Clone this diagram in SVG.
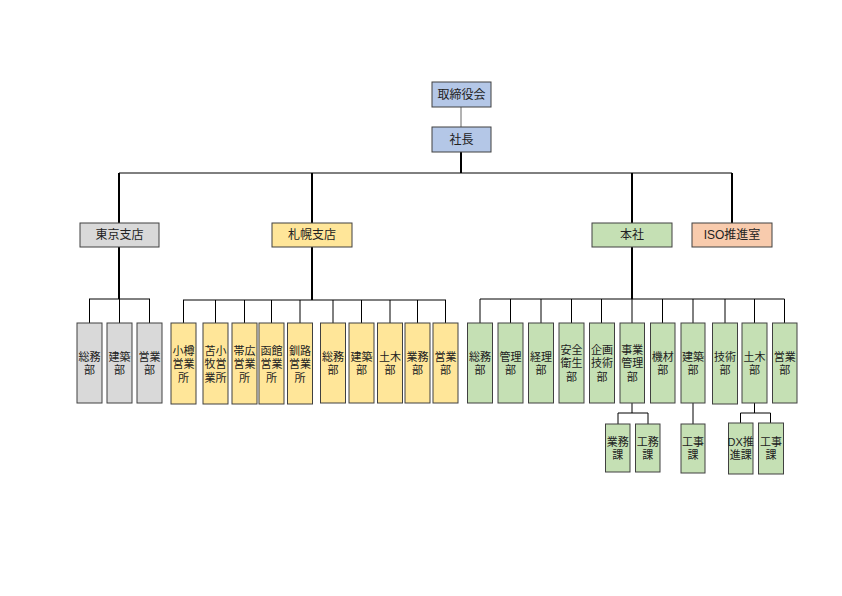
<svg xmlns="http://www.w3.org/2000/svg" width="842" height="596" viewBox="0 0 842 596">
<style>
.b{stroke:#404040;stroke-width:1}
.g{fill:#d9d9d9}.y{fill:#ffe699}.n{fill:#c5e0b4}.u{fill:#b4c7e7}.o{fill:#f8cbad}
text{font-family:"Liberation Sans","Noto Sans CJK JP",sans-serif;font-size:12px;fill:#222;text-anchor:middle;dominant-baseline:central}
text.v{font-size:11px}
.c line{stroke:#000;stroke-width:1}
.c .t{stroke-width:2}
.c .s{stroke:#666}
</style>
<rect width="842" height="596" fill="#fff"/>
<g class="c" id="connectors">
<line class="s" x1="461" y1="107" x2="461" y2="127"/>
<line class="t" x1="461" y1="152" x2="461" y2="173"/>
<line x1="119" y1="173" x2="732" y2="173"/>
<line class="t" x1="119" y1="173" x2="119" y2="223"/>
<line class="t" x1="312" y1="173" x2="312" y2="223"/>
<line class="t" x1="632" y1="173" x2="632" y2="223"/>
<line class="t" x1="732" y1="173" x2="732" y2="223"/>
<line class="t" x1="119" y1="247" x2="119" y2="299"/>
<line x1="89" y1="299" x2="150" y2="299"/>
<line x1="89.5" y1="299" x2="89.5" y2="323"/>
<line x1="119.5" y1="299" x2="119.5" y2="323"/>
<line x1="149.5" y1="299" x2="149.5" y2="323"/>
<line class="t" x1="312" y1="247" x2="312" y2="300"/>
<line x1="183" y1="300" x2="446" y2="300"/>
<line x1="183.5" y1="300" x2="183.5" y2="323"/>
<line x1="215.5" y1="300" x2="215.5" y2="323"/>
<line x1="244.5" y1="300" x2="244.5" y2="323"/>
<line x1="271.5" y1="300" x2="271.5" y2="323"/>
<line x1="300" y1="300" x2="300" y2="323"/>
<line x1="333" y1="300" x2="333" y2="323"/>
<line x1="361.5" y1="300" x2="361.5" y2="323"/>
<line x1="390" y1="300" x2="390" y2="323"/>
<line x1="417.5" y1="300" x2="417.5" y2="323"/>
<line x1="445.5" y1="300" x2="445.5" y2="323"/>
<line class="t" x1="632" y1="247" x2="632" y2="299"/>
<line x1="480" y1="299" x2="784.5" y2="299"/>
<line x1="480" y1="299" x2="480" y2="323"/>
<line x1="510.5" y1="299" x2="510.5" y2="323"/>
<line x1="541" y1="299" x2="541" y2="323"/>
<line x1="571.5" y1="299" x2="571.5" y2="323"/>
<line x1="601.5" y1="299" x2="601.5" y2="323"/>
<line x1="632" y1="299" x2="632" y2="323"/>
<line x1="662.5" y1="299" x2="662.5" y2="323"/>
<line x1="693" y1="299" x2="693" y2="323"/>
<line x1="725" y1="299" x2="725" y2="323"/>
<line x1="754.5" y1="299" x2="754.5" y2="323"/>
<line x1="784.5" y1="299" x2="784.5" y2="323"/>
<line x1="632" y1="403" x2="632" y2="413"/>
<line x1="618" y1="413" x2="648" y2="413"/>
<line x1="618" y1="413" x2="618" y2="424"/>
<line x1="648" y1="413" x2="648" y2="424"/>
<line x1="693" y1="403" x2="693" y2="424"/>
<line x1="754.5" y1="403" x2="754.5" y2="413"/>
<line x1="740.5" y1="413" x2="770.5" y2="413"/>
<line x1="740.5" y1="413" x2="740.5" y2="423"/>
<line x1="770.5" y1="413" x2="770.5" y2="423"/>
</g>
<g id="torishimariyakukai"><rect class="b u" x="432" y="82" width="59" height="25"/><text x="461.5" y="94.5">取締役会</text></g>
<g id="shacho"><rect class="b u" x="432" y="127" width="59" height="25"/><text x="461.5" y="139.5">社長</text></g>
<g id="tokyo"><rect class="b g" x="80" y="223" width="79" height="24"/><text x="119.5" y="235">東京支店</text></g>
<g id="sapporo"><rect class="b y" x="272" y="223" width="80" height="24"/><text x="312" y="235">札幌支店</text></g>
<g id="honsha"><rect class="b n" x="592" y="223" width="80" height="24"/><text x="632" y="235">本社</text></g>
<g id="iso"><rect class="b o" x="692" y="223" width="80" height="24"/><text x="732" y="235">ISO推進室</text></g>

<g id="tk-somu"><rect class="b g" x="77" y="323" width="25" height="80"/><text class="v" x="89.5" y="356.5">総務<tspan x="89.5" dy="13.4">部</tspan></text></g>
<g id="tk-kenchiku"><rect class="b g" x="107" y="323" width="25" height="80"/><text class="v" x="119.5" y="356.5">建築<tspan x="119.5" dy="13.4">部</tspan></text></g>
<g id="tk-eigyo"><rect class="b g" x="137" y="323" width="25" height="80"/><text class="v" x="149.5" y="356.5">営業<tspan x="149.5" dy="13.4">部</tspan></text></g>

<g id="sp-otaru"><rect class="b y" x="171" y="323" width="25" height="81"/><text class="v" x="183.5" y="351">小樽<tspan x="183.5" dy="13.4">営業</tspan><tspan x="183.5" dy="13.4">所</tspan></text></g>
<g id="sp-tomakomai"><rect class="b y" x="203" y="323" width="25" height="81"/><text class="v" x="215.5" y="351">苫小<tspan x="215.5" dy="13.4">牧営</tspan><tspan x="215.5" dy="13.4">業所</tspan></text></g>
<g id="sp-obihiro"><rect class="b y" x="232" y="323" width="25" height="81"/><text class="v" x="244.5" y="351">帯広<tspan x="244.5" dy="13.4">営業</tspan><tspan x="244.5" dy="13.4">所</tspan></text></g>
<g id="sp-hakodate"><rect class="b y" x="259" y="323" width="25" height="81"/><text class="v" x="271.5" y="351">函館<tspan x="271.5" dy="13.4">営業</tspan><tspan x="271.5" dy="13.4">所</tspan></text></g>
<g id="sp-kushiro"><rect class="b y" x="287.5" y="323" width="25" height="81"/><text class="v" x="300" y="351">釧路<tspan x="300" dy="13.4">営業</tspan><tspan x="300" dy="13.4">所</tspan></text></g>
<g id="sp-somu"><rect class="b y" x="320.5" y="323" width="25" height="80"/><text class="v" x="333" y="356.5">総務<tspan x="333" dy="13.4">部</tspan></text></g>
<g id="sp-kenchiku"><rect class="b y" x="349" y="323" width="25" height="80"/><text class="v" x="361.5" y="356.5">建築<tspan x="361.5" dy="13.4">部</tspan></text></g>
<g id="sp-doboku"><rect class="b y" x="377.5" y="323" width="25" height="80"/><text class="v" x="390" y="356.5">土木<tspan x="390" dy="13.4">部</tspan></text></g>
<g id="sp-gyomu"><rect class="b y" x="405" y="323" width="25" height="80"/><text class="v" x="417.5" y="356.5">業務<tspan x="417.5" dy="13.4">部</tspan></text></g>
<g id="sp-eigyo"><rect class="b y" x="433" y="323" width="25" height="80"/><text class="v" x="445.5" y="356.5">営業<tspan x="445.5" dy="13.4">部</tspan></text></g>

<g id="hs-somu"><rect class="b n" x="467.5" y="323" width="25" height="80"/><text class="v" x="480" y="356.5">総務<tspan x="480" dy="13.4">部</tspan></text></g>
<g id="hs-kanri"><rect class="b n" x="498" y="323" width="25" height="80"/><text class="v" x="510.5" y="356.5">管理<tspan x="510.5" dy="13.4">部</tspan></text></g>
<g id="hs-keiri"><rect class="b n" x="528.5" y="323" width="25" height="80"/><text class="v" x="541" y="356.5">経理<tspan x="541" dy="13.4">部</tspan></text></g>
<g id="hs-anzen"><rect class="b n" x="559" y="323" width="25" height="80"/><text class="v" x="571.5" y="350">安全<tspan x="571.5" dy="13.4">衛生</tspan><tspan x="571.5" dy="13.4">部</tspan></text></g>
<g id="hs-kikaku"><rect class="b n" x="589.5" y="323" width="25" height="80"/><text class="v" x="602" y="350">企画<tspan x="602" dy="13.4">技術</tspan><tspan x="602" dy="13.4">部</tspan></text></g>
<g id="hs-jigyo"><rect class="b n" x="620" y="323" width="24.5" height="80"/><text class="v" x="632.3" y="350">事業<tspan x="632.3" dy="13.4">管理</tspan><tspan x="632.3" dy="13.4">部</tspan></text></g>
<g id="hs-kizai"><rect class="b n" x="650.5" y="323" width="24.5" height="80"/><text class="v" x="662.7" y="356.5">機材<tspan x="662.7" dy="13.4">部</tspan></text></g>
<g id="hs-kenchiku"><rect class="b n" x="681" y="323" width="24" height="80"/><text class="v" x="693" y="356.5">建築<tspan x="693" dy="13.4">部</tspan></text></g>
<g id="hs-gijutsu"><rect class="b n" x="712.5" y="323" width="25" height="81"/><text class="v" x="725" y="356.5">技術<tspan x="725" dy="13.4">部</tspan></text></g>
<g id="hs-doboku"><rect class="b n" x="742" y="323" width="25" height="80"/><text class="v" x="754.5" y="356.5">土木<tspan x="754.5" dy="13.4">部</tspan></text></g>
<g id="hs-eigyo"><rect class="b n" x="772.5" y="323" width="24.5" height="80"/><text class="v" x="784.7" y="356.5">営業<tspan x="784.7" dy="13.4">部</tspan></text></g>

<g id="jg-gyomuka"><rect class="b n" x="605.5" y="424" width="24.5" height="48"/><text class="v" x="617.8" y="441.5">業務<tspan x="617.8" dy="13.4">課</tspan></text></g>
<g id="jg-komuka"><rect class="b n" x="635.5" y="424" width="24.5" height="48"/><text class="v" x="647.8" y="441.5">工務<tspan x="647.8" dy="13.4">課</tspan></text></g>
<g id="kc-kojika"><rect class="b n" x="681" y="424" width="24" height="49"/><text class="v" x="693" y="442">工事<tspan x="693" dy="13.4">課</tspan></text></g>
<g id="db-dx"><rect class="b n" x="728.5" y="423" width="24.5" height="51"/><text class="v" x="740.7" y="442">DX推<tspan x="740.7" dy="13.4">進課</tspan></text></g>
<g id="db-kojika"><rect class="b n" x="758.5" y="423" width="25" height="51"/><text class="v" x="771" y="442">工事<tspan x="771" dy="13.4">課</tspan></text></g>
</svg>
